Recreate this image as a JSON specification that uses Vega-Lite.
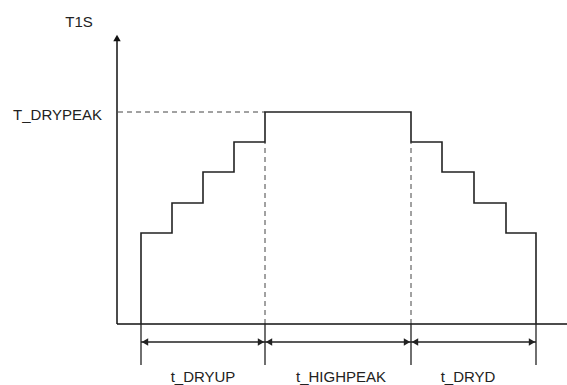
{
  "$schema": "https://vega.github.io/schema/vega-lite/v6.json",
  "width": 567,
  "height": 385,
  "padding": 0,
  "autosize": "none",
  "config": {"view": {"stroke": null}, "text": {"font": "Liberation Sans", "fontSize": 15, "color": "#222"}},
  "datasets": {
    "axes": [{"x": 0, "y": 0, "x2": 450, "y2": 0}, {"x": 0, "y": 0, "x2": 0, "y2": 284}],
    "arrowtip": [{"x": 0, "y": 286}],
    "step": [
      {"i": 1, "x": 24, "y": 0}, {"i": 2, "x": 24, "y": 91}, {"i": 3, "x": 55, "y": 91}, {"i": 4, "x": 55, "y": 121},
      {"i": 5, "x": 86, "y": 121}, {"i": 6, "x": 86, "y": 152}, {"i": 7, "x": 117, "y": 152}, {"i": 8, "x": 117, "y": 182},
      {"i": 9, "x": 148, "y": 182}, {"i": 10, "x": 148, "y": 212}, {"i": 11, "x": 294, "y": 212}, {"i": 12, "x": 294, "y": 182},
      {"i": 13, "x": 325, "y": 182}, {"i": 14, "x": 325, "y": 152}, {"i": 15, "x": 357, "y": 152}, {"i": 16, "x": 357, "y": 121},
      {"i": 17, "x": 389, "y": 121}, {"i": 18, "x": 389, "y": 91}, {"i": 19, "x": 419, "y": 91}, {"i": 20, "x": 419, "y": 0}
    ],
    "dashed": [{"x": 1, "y": 212, "x2": 148, "y2": 212}, {"x": 148, "y": 0, "x2": 148, "y2": 182}, {"x": 294, "y": 0, "x2": 294, "y2": 182}],
    "ticks": [{"x": 24, "y": 0, "y2": -41}, {"x": 148, "y": 0, "y2": -41}, {"x": 294, "y": 0, "y2": -41}, {"x": 419, "y": 0, "y2": -41}],
    "spans": [{"x": 24, "x2": 148, "y": -18}, {"x": 148, "x2": 294, "y": -18}, {"x": 294, "x2": 419, "y": -18}],
    "leftheads": [{"x": 28, "y": -18}, {"x": 152, "y": -18}, {"x": 298, "y": -18}],
    "rightheads": [{"x": 144, "y": -18}, {"x": 290, "y": -18}, {"x": 415, "y": -18}],
    "toplabel": [{"x": -38, "y": 302, "label": "T1S"}],
    "peaklabel": [{"x": -15, "y": 209, "label": "T_DRYPEAK"}],
    "spanlabels": [{"x": 86, "y": -53, "label": "t_DRYUP"}, {"x": 224, "y": -53, "label": "t_HIGHPEAK"}, {"x": 351, "y": -53, "label": "t_DRYD"}]
  },
  "encoding": {
    "x": {"field": "x", "type": "quantitative", "scale": {"domain": [-117, 450], "nice": false, "zero": false}, "axis": null},
    "y": {"field": "y", "type": "quantitative", "scale": {"domain": [-61, 324], "nice": false, "zero": false}, "axis": null}
  },
  "layer": [
    {"data": {"name": "dashed"}, "mark": {"type": "rule", "color": "#444", "strokeWidth": 1, "strokeDash": [5, 4]},
     "encoding": {"x2": {"field": "x2"}, "y2": {"field": "y2"}}},
    {"data": {"name": "axes"}, "mark": {"type": "rule", "color": "#111", "strokeWidth": 1.5},
     "encoding": {"x2": {"field": "x2"}, "y2": {"field": "y2"}}},
    {"data": {"name": "arrowtip"}, "mark": {"type": "point", "shape": "triangle-up", "filled": true, "color": "#111", "size": 55, "opacity": 1}},
    {"data": {"name": "step"}, "mark": {"type": "line", "color": "#222", "strokeWidth": 1.6},
     "encoding": {"order": {"field": "i", "type": "quantitative"}}},
    {"data": {"name": "ticks"}, "mark": {"type": "rule", "color": "#222", "strokeWidth": 1.3},
     "encoding": {"y2": {"field": "y2"}}},
    {"data": {"name": "spans"}, "mark": {"type": "rule", "color": "#222", "strokeWidth": 1.3},
     "encoding": {"x2": {"field": "x2"}}},
    {"data": {"name": "leftheads"}, "mark": {"type": "point", "shape": "triangle-left", "filled": true, "color": "#222", "size": 55, "opacity": 1}},
    {"data": {"name": "rightheads"}, "mark": {"type": "point", "shape": "triangle-right", "filled": true, "color": "#222", "size": 55, "opacity": 1}},
    {"data": {"name": "toplabel"}, "mark": {"type": "text", "align": "center", "baseline": "middle"},
     "encoding": {"text": {"field": "label"}}},
    {"data": {"name": "peaklabel"}, "mark": {"type": "text", "align": "right", "baseline": "middle"},
     "encoding": {"text": {"field": "label"}}},
    {"data": {"name": "spanlabels"}, "mark": {"type": "text", "align": "center", "baseline": "middle"},
     "encoding": {"text": {"field": "label"}}}
  ]
}
